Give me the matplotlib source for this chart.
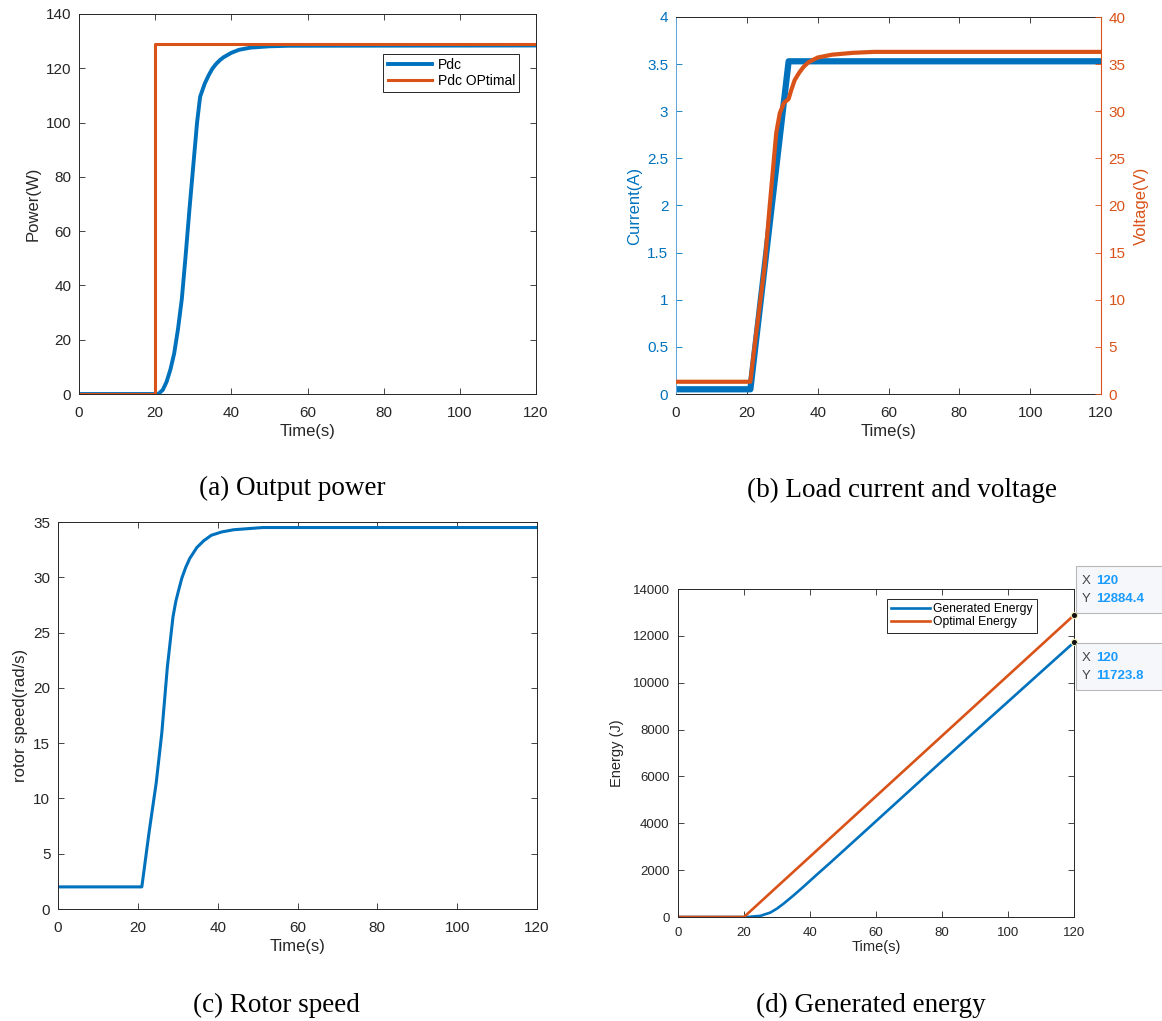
import matplotlib
matplotlib.use('Agg')
import matplotlib.pyplot as plt
from matplotlib.patches import Rectangle

plt.rcParams['font.family'] = ['Liberation Sans', 'DejaVu Sans']

# ---------------- data ----------------
# (a) output power
t_pdc = [0, 20.8, 22, 23, 24, 25, 26, 27, 28, 29, 30, 31, 31.8, 32.5, 33, 34, 35, 36, 37, 38, 40, 42, 45, 50, 55, 120]
pdc = [0, 0, 1.5, 4.5, 9, 15, 24, 35, 51, 68, 84, 100, 109.5, 112.3, 114.3, 117.3, 119.8, 121.6, 123.0, 124.1,
       125.7, 126.8, 127.6, 128.1, 128.3, 128.4]
t_pdc_opt = [0, 20, 20, 120]
pdc_opt = [0, 0, 128.8, 128.8]

# (b) load current and voltage
t_cur = [0, 21, 31.8, 120]
cur = [0.05, 0.05, 3.53, 3.53]
t_volt = [0, 21, 22, 23.5, 25, 26.3, 27.3, 28.3, 29.3, 30.5, 31.8, 32.5, 33.5, 34.8, 36, 37.4, 40, 44, 50, 56, 120]
volt = [1.3, 1.3, 4.5, 9.0, 13.5, 19.3, 23.5, 27.7, 29.8, 30.9, 31.3, 32.2, 33.3, 34.1, 34.7, 35.2, 35.7, 36.0, 36.2,
        36.3, 36.3]

# (c) rotor speed
t_w = [0, 21, 22.8, 24.6, 26, 27.4, 28.8, 29.5, 30.2, 31, 32, 33, 34.8, 36.5, 38.4, 41, 44, 51.3, 60, 120]
w = [2.0, 2.0, 6.9, 11.4, 15.9, 21.9, 26.4, 27.8, 28.8, 29.9, 30.9, 31.7, 32.7, 33.3, 33.8, 34.1, 34.3, 34.5, 34.5, 34.5]

# (d) generated energy
t_e = [0, 21, 25, 28, 30, 32, 35, 38, 42, 46, 50, 55, 60, 80, 100, 120]
e_gen = [0, 0, 50, 190, 360, 570, 920, 1290, 1800, 2300, 2810, 3450, 4090, 6655, 9190, 11723.8]
t_e_opt = [0, 20, 120]
e_opt = [0, 0, 12884.4]

blue = '#0072BD'
orange = '#D95319'
axcol = '#262626'
W, H = 1162, 1021


def box(l, r, t, b):
    return [l / W, 1 - b / H, (r - l) / W, (b - t) / H]


def mstyle(ax, fs=11, xpad=8.5, ypad=5.5):
    ax.tick_params(direction='in', top=True, right=True, length=4.5, width=0.6,
                   labelsize=fs, colors=axcol)
    ax.tick_params(axis='x', pad=xpad)
    ax.tick_params(axis='y', pad=ypad)
    for s in ax.spines.values():
        s.set_color(axcol)
        s.set_linewidth(0.7)


fig = plt.figure(figsize=(W / 100, H / 100), dpi=100)

# ---- (a)
ax = fig.add_axes(box(79, 536, 14, 394))
ax.plot(t_pdc, pdc, color=blue, lw=2.8, label='Pdc')
ax.plot(t_pdc_opt, pdc_opt, color=orange, lw=2.2, label='Pdc OPtimal')
ax.set_xlim(0, 120)
ax.set_ylim(0, 140)
ax.set_xticks(range(0, 121, 20))
ax.set_yticks(range(0, 141, 20))
mstyle(ax)
ax.set_xlabel('Time(s)', fontsize=12, color=axcol, labelpad=3)
ax.set_ylabel('Power(W)', fontsize=12, color=axcol, labelpad=4)
leg = ax.legend(loc='upper right', bbox_to_anchor=(0.963, 0.895), fontsize=10, fancybox=False,
                edgecolor=axcol, framealpha=1, handlelength=3.2, handletextpad=0.4,
                borderpad=0.3, labelspacing=0.15, borderaxespad=0)
leg.get_frame().set_linewidth(0.7)

# ---- (b)
axb = fig.add_axes(box(676, 1101, 17, 394))
axb.plot(t_cur, cur, color=blue, lw=4.5)
axb.set_xlim(0, 120)
axb.set_ylim(0, 4)
axb.set_xticks(range(0, 121, 20))
axb.set_yticks([0, 0.5, 1, 1.5, 2, 2.5, 3, 3.5, 4])
axb.set_yticklabels(['0', '0.5', '1', '1.5', '2', '2.5', '3', '3.5', '4'])
axb.tick_params(direction='in', top=True, right=False, length=4.5, width=0.6,
                labelsize=11, colors=axcol)
axb.tick_params(axis='x', pad=8.5)
axb.tick_params(axis='y', colors=blue, pad=5.5)
for s in axb.spines.values():
    s.set_color(axcol)
    s.set_linewidth(0.7)
axb.spines['left'].set_color('#5aa6dc')
axb.spines['right'].set_visible(False)
axb.set_xlabel('Time(s)', fontsize=12, color=axcol, labelpad=3)
axb.set_ylabel('Current(A)', fontsize=12, color=blue, labelpad=4)
axv = axb.twinx()
axv.plot(t_volt, volt, color=orange, lw=3.0)
axv.set_ylim(0, 40)
axv.set_yticks(range(0, 41, 5))
axv.tick_params(axis='y', direction='in', length=4.5, width=0.6, labelsize=11,
                colors=orange, pad=5.5)
for s in axv.spines.values():
    s.set_visible(False)
axv.spines['right'].set_visible(True)
axv.spines['right'].set_color(orange)
axv.spines['right'].set_linewidth(0.8)
axv.set_ylabel('Voltage(V)', fontsize=12, color=orange, labelpad=6)

# ---- (c)
axc = fig.add_axes(box(58, 537, 522, 909))
axc.plot(t_w, w, color=blue, lw=2.2)
axc.set_xlim(0, 120)
axc.set_ylim(0, 35)
axc.set_xticks(range(0, 121, 20))
axc.set_yticks(range(0, 36, 5))
mstyle(axc)
axc.set_xlabel('Time(s)', fontsize=12, color=axcol, labelpad=3)
axc.set_ylabel('rotor speed(rad/s)', fontsize=12, color=axcol, labelpad=4)

# ---- (d)
axd = fig.add_axes(box(678, 1074, 589, 917))
axd.plot(t_e, e_gen, color=blue, lw=1.9, label='Generated Energy')
axd.plot(t_e_opt, e_opt, color=orange, lw=1.9, label='Optimal Energy')
axd.set_xlim(0, 120)
axd.set_ylim(0, 14000)
axd.set_xticks(range(0, 121, 20))
axd.set_yticks(range(0, 14001, 2000))
mstyle(axd, fs=9.5, xpad=7, ypad=6)
axd.set_xlabel('Time(s)', fontsize=10.5, color=axcol, labelpad=1)
axd.set_ylabel('Energy (J)', fontsize=10.5, color=axcol, labelpad=6)
leg = axd.legend(loc='upper right', bbox_to_anchor=(0.907, 0.970), fontsize=8.7, fancybox=False,
                 edgecolor=axcol, framealpha=1, handlelength=3.2, handletextpad=0.3,
                 borderpad=0.35, labelspacing=0.1, borderaxespad=0)
leg.get_frame().set_linewidth(0.7)

# data tips
for tt, ee in [(t_e[-1], e_opt[-1]), (t_e[-1], e_gen[-1])]:
    axd.plot([tt], [ee], 'o', ms=4.5, mfc='#111111', mec='#f3f0b8', mew=0.8, clip_on=False, zorder=5)

tips = [(566, 613, t_e[-1], e_opt[-1]), (643, 690, t_e[-1], e_gen[-1])]
for top, bot, xv, yv in tips:
    fig.add_artist(Rectangle((1076 / W, 1 - bot / H), 0.2, (bot - top) / H,
                             transform=fig.transFigure, facecolor='#f6f7fb',
                             edgecolor='#b8b8b8', lw=0.8))
    y1 = 1 - (top + 15) / H
    y2 = 1 - (top + 33) / H
    fig.text(1082 / W, y1, 'X', fontsize=9.5, color='#444444', va='center')
    fig.text(1096 / W, y1, f'{xv:g}', fontsize=9.5, color='#1a9bff', weight='bold', va='center')
    fig.text(1082 / W, y2, 'Y', fontsize=9.5, color='#444444', va='center')
    fig.text(1096 / W, y2, f'{yv:.1f}', fontsize=9.5, color='#1a9bff', weight='bold', va='center')

# captions
cap = dict(ha='center', va='center', fontsize=19.5, family='Liberation Serif', color='black')
fig.text(292 / W, 1 - 488 / H, '(a) Output power', **cap)
fig.text(902 / W, 1 - 490 / H, '(b) Load current and voltage', **cap)
fig.text(276 / W, 1 - 1005 / H, '(c) Rotor speed', **cap)
fig.text(871 / W, 1 - 1005 / H, '(d) Generated energy', **cap)

fig.savefig('out.png', dpi=100)
